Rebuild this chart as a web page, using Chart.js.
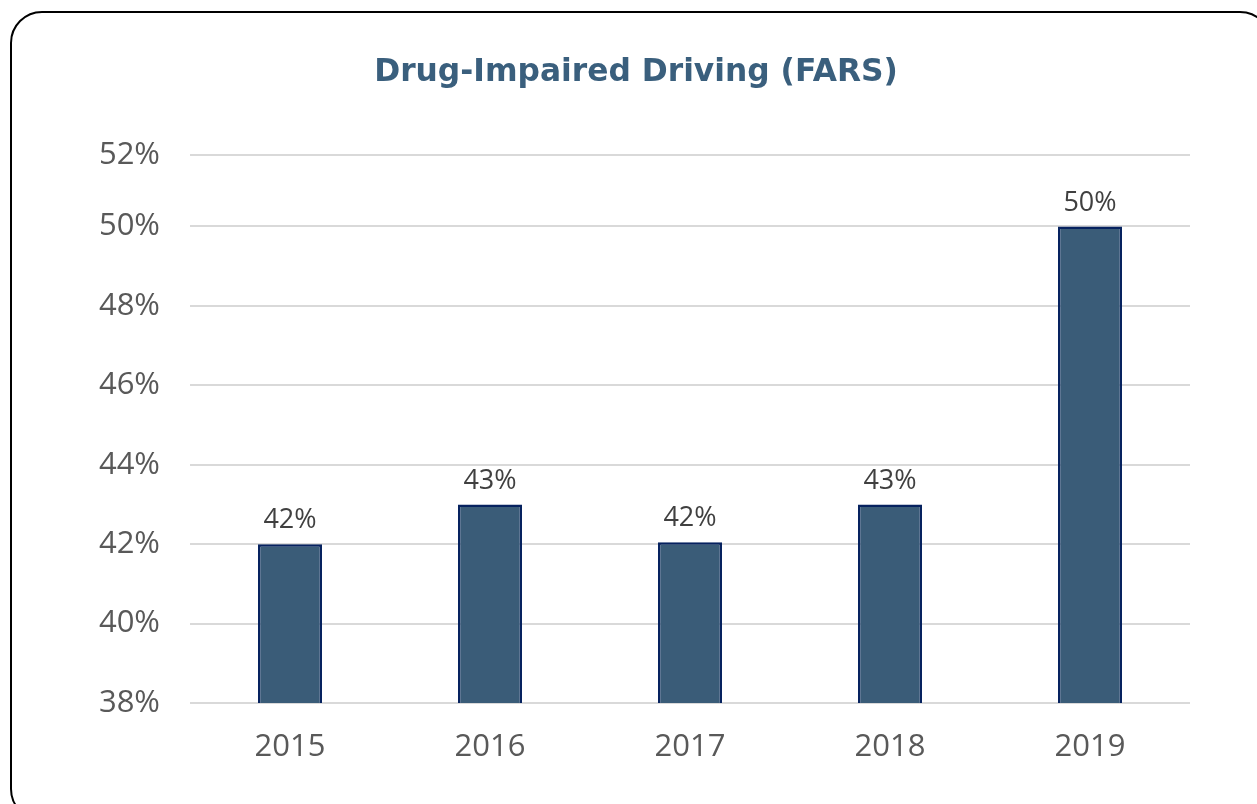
<!DOCTYPE html>
<html lang="en">
<head>
    <meta charset="UTF-8">
    <title>Drug-Impaired Driving (FARS)</title>
    <script src="https://cdn.jsdelivr.net/npm/chart.js"></script>
    <style>
        body {
            margin: 0;
            background: #ffffff;
            overflow: hidden;
        }

        #frame {
            position: absolute;
            left: 10px;
            top: 11px;
            width: 1262px;
            height: 810px;
            border: 2px solid #000;
            border-radius: 32px;
            box-sizing: border-box;
        }

        #wrap {
            position: absolute;
            left: 0;
            top: 0;
            width: 1257px;
            height: 804px;
        }
    </style>
</head>
<body>
    <div id="frame"></div>
    <div id="wrap"><canvas id="farsChart" width="1257" height="804"></canvas></div>

    <script>
        const chartTitle = "Drug-Impaired Driving (FARS)";
        const years = ["2015", "2016", "2017", "2018", "2019"];
        const shares = [42, 43, 42.05, 43, 50];
        const shareLabels = ["42%", "43%", "42%", "43%", "50%"];
        // the axis in the original tops out just short of 52%
        const yMin = 38;
        const yMax = 51.8;
        const yTicks = [38, 40, 42, 44, 46, 48, 50, 51.8];
        const yTickLabels = ["38%", "40%", "42%", "44%", "46%", "48%", "50%", "52%"];

        // title centred on the whole card, not the plot
        const cardTitle = {
            id: "cardTitle",
            afterDraw(chart) {
                const ctx = chart.ctx;
                ctx.save();
                ctx.font = "bold 31.3px 'DejaVu Sans'";
                ctx.fillStyle = "#3A5F7D";
                ctx.textAlign = "center";
                ctx.textBaseline = "middle";
                ctx.fillText(chartTitle, 636, 73);
                ctx.restore();
            }
        };

        // labels above each bar
        const barLabels = {
            id: "barLabels",
            afterDatasetsDraw(chart) {
                const ctx = chart.ctx;
                const meta = chart.getDatasetMeta(0);
                ctx.save();
                ctx.font = "27px 'Open Sans'";
                ctx.fillStyle = "#404040";
                ctx.textAlign = "center";
                ctx.textBaseline = "bottom";
                meta.data.forEach((bar, i) => {
                    ctx.fillText(shareLabels[i], bar.x, bar.y - 10);
                });
                ctx.restore();
            }
        };

        new Chart(document.getElementById("farsChart"), {
            type: "bar",
            data: {
                labels: years,
                datasets: [{
                    data: shares,
                    backgroundColor: "#3A5C78",
                    borderColor: "#06225F",
                    borderWidth: 2.5,
                    barPercentage: 0.32,
                    categoryPercentage: 1
                }]
            },
            options: {
                responsive: false,
                animation: false,
                layout: { padding: { left: 0, right: 67, top: 155, bottom: 0 } },
                plugins: {
                    legend: { display: false },
                    tooltip: { enabled: false },
                    title: { display: false }
                },
                scales: {
                    x: {
                        grid: { display: false },
                        border: { display: false },
                        ticks: {
                            color: "#595959",
                            font: { family: "Open Sans", size: 31 },
                            padding: 18
                        },
                        afterFit(scale) { scale.height = 101; }
                    },
                    y: {
                        min: yMin,
                        max: yMax,
                        border: { display: false },
                        grid: { color: "#D9D9D9", lineWidth: 2, drawTicks: false },
                        afterBuildTicks(scale) {
                            scale.ticks = yTicks.map(v => ({ value: v }));
                        },
                        ticks: {
                            color: "#595959",
                            font: { family: "Open Sans", size: 31 },
                            padding: 30,
                            callback: (v, i) => yTickLabels[i]
                        },
                        afterFit(scale) { scale.width = 190; }
                    }
                }
            },
            plugins: [barLabels, cardTitle]
        });
    </script>
</body>
</html>
